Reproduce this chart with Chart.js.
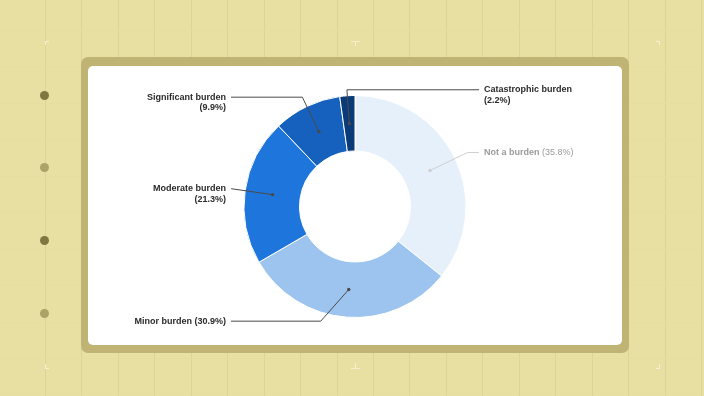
<!DOCTYPE html>
<html>
<head>
<meta charset="utf-8">
<script src="https://cdn.jsdelivr.net/npm/chart.js@4.4.1/dist/chart.umd.min.js"></script>
<style>
  html, body { margin: 0; padding: 0; }
  body {
    width: 704px; height: 396px; overflow: hidden; position: relative;
    background-color: #e8dfa2;
  }
  .vline { position: absolute; top: 0; width: 1px; height: 396px; background: #ddd398; }
  .hline { position: absolute; left: 0; height: 1px; width: 704px; background: #e6dda0; }
  .dot { position: absolute; width: 9px; height: 9px; border-radius: 50%; }
  .mark { position: absolute; background: #f4efcd; }
  #frame {
    position: absolute; left: 81px; top: 57px; width: 548px; height: 296px;
    background: #bfb474; border-radius: 7px;
  }
  #card {
    position: absolute; left: 88px; top: 66px; width: 534px; height: 279px;
    background: #ffffff; border-radius: 5px;
  }
  #wrap { position: absolute; left: 88px; top: 66px; width: 534px; height: 279px; }
</style>
</head>
<body>
<div id="bg"></div>
<div id="frame"></div>
<div id="card"></div>
<div id="wrap"><canvas id="myChart"></canvas></div>
<script>
// data
var categories = ["Not a burden", "Minor burden", "Moderate burden", "Significant burden", "Catastrophic burden"];
var shares = [35.8, 30.9, 21.3, 9.9, 2.2];
var sliceColors = ["#e6f0fb", "#9dc4ef", "#1e76dc", "#1661bd", "#0b3a78"];

// label layout (annotation only)
var labelSide = [1, -1, -1, -1, 1];        // 1 = right of the donut, -1 = left
var oneLine = [true, true, false, false, false];
var muted = [true, false, false, false, false];
var labelShiftY = [0, 0, 2, 0, 4];
var elbowOverride = [null, -28, null, null, null];

// background decoration
var bg = document.getElementById("bg");
for (var x = 45; x < 704; x += 36.45) {
  var v = document.createElement("div");
  v.className = "vline";
  v.style.left = Math.round(x) + "px";
  bg.appendChild(v);
}
for (var y = 30; y < 396; y += 36.45) {
  var h = document.createElement("div");
  h.className = "hline";
  h.style.top = Math.round(y) + "px";
  bg.appendChild(h);
}
var dotYs = [95, 167, 240, 313];
dotYs.forEach(function(dy, i) {
  var d = document.createElement("div");
  d.className = "dot";
  d.style.left = "40px";
  d.style.top = (dy - 4) + "px";
  d.style.background = i % 2 === 0 ? "#7f7641" : "#aca166";
  bg.appendChild(d);
});
// little corner / tick marks
function mark(l, t, w, hh) {
  var m = document.createElement("div");
  m.className = "mark";
  m.style.left = l + "px"; m.style.top = t + "px";
  m.style.width = w + "px"; m.style.height = hh + "px";
  bg.appendChild(m);
}
mark(45, 41, 4, 1); mark(45, 41, 1, 4);
mark(351, 41, 9, 1); mark(355, 41, 1, 5);
mark(656, 41, 4, 1); mark(659, 41, 1, 4);
mark(45, 368, 4, 1); mark(45, 364, 1, 4);
mark(351, 368, 9, 1); mark(355, 363, 1, 5);
mark(656, 368, 4, 1); mark(659, 364, 1, 4);

// leader lines + labels
var leaderLabels = {
  id: "leaderLabels",
  afterDatasetsDraw: function(chart) {
    var ctx = chart.ctx;
    var arcs = chart.getDatasetMeta(0).data;
    ctx.save();
    arcs.forEach(function(arc, i) {
      var p = arc.getProps(["x", "y", "startAngle", "endAngle", "innerRadius", "outerRadius"], true);
      var mid = (p.startAngle + p.endAngle) / 2;
      var cs = Math.cos(mid), sn = Math.sin(mid);
      var rMid = (p.innerRadius + p.outerRadius) / 2;
      var dotX = p.x + cs * rMid, dotY = p.y + sn * rMid;
      var side = labelSide[i];
      var labelY = p.y + sn * (p.outerRadius + 7) - 3 + labelShiftY[i];
      var lineEnd = p.x + side * (p.outerRadius + 13);
      var elbowX;
      if (elbowOverride[i] !== null) {
        elbowX = dotX + elbowOverride[i];
      } else if (Math.abs(sn) < 0.05) {
        elbowX = lineEnd;
      } else {
        elbowX = p.x + cs * ((labelY - p.y) / sn);
      }
      if (side * (elbowX - lineEnd) > 0) elbowX = lineEnd;

      var lineColor = muted[i] ? "#cfcfcf" : "#4a4a4a";
      var textColor = muted[i] ? "#9b9b9b" : "#2b2b2b";

      ctx.strokeStyle = lineColor;
      ctx.lineWidth = 1;
      ctx.beginPath();
      ctx.moveTo(lineEnd, labelY);
      ctx.lineTo(elbowX, labelY);
      ctx.lineTo(dotX, dotY);
      ctx.stroke();
      ctx.fillStyle = lineColor;
      ctx.beginPath();
      ctx.arc(dotX, dotY, 1.7, 0, Math.PI * 2);
      ctx.fill();

      var boldFont = "bold 9px 'Liberation Sans', Arial, sans-serif";
      var normFont = (muted[i] ? "" : "bold ") + "9px 'Liberation Sans', Arial, sans-serif";
      var pct = "(" + shares[i] + "%)";
      var tx = lineEnd + side * 5;
      ctx.fillStyle = textColor;
      ctx.textBaseline = "middle";
      if (oneLine[i]) {
        ctx.font = boldFont;
        var w1 = ctx.measureText(categories[i] + " ").width;
        ctx.font = normFont;
        var w2 = ctx.measureText(pct).width;
        var startX = side > 0 ? tx : tx - w1 - w2;
        ctx.textAlign = "left";
        ctx.font = boldFont;
        ctx.fillText(categories[i], startX, labelY);
        ctx.font = normFont;
        ctx.fillText(pct, startX + w1, labelY);
      } else {
        ctx.textAlign = side > 0 ? "left" : "right";
        ctx.font = boldFont;
        ctx.fillText(categories[i], tx, labelY);
        ctx.fillText(pct, tx, labelY + 10.5);
      }
    });
    ctx.restore();
  }
};

var ctx = document.getElementById("myChart").getContext("2d");
var myChart = new Chart(ctx, {
  type: "doughnut",
  data: {
    labels: categories,
    datasets: [{
      data: shares,
      backgroundColor: sliceColors,
      borderColor: "#ffffff",
      borderWidth: 1
    }]
  },
  options: {
    responsive: true,
    maintainAspectRatio: false,
    animation: false,
    cutout: "50%",
    layout: { padding: { top: 29, bottom: 27, left: 0, right: 0 } },
    plugins: {
      legend: { display: false },
      tooltip: { enabled: false }
    }
  },
  plugins: [leaderLabels]
});
</script>
</body>
</html>
